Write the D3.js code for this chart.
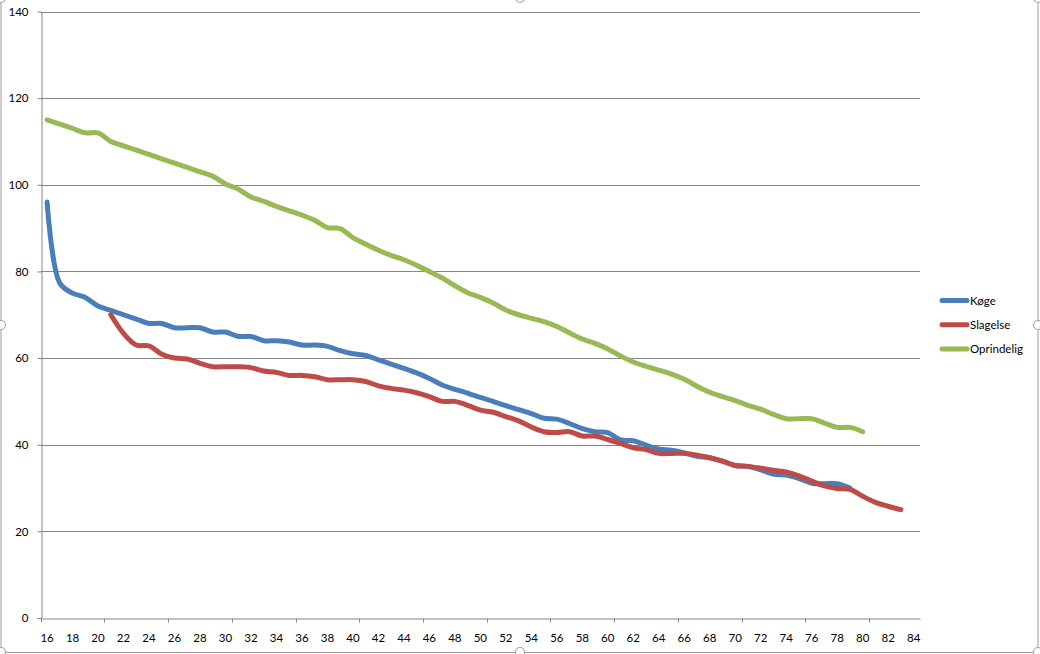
<!DOCTYPE html>
<html>
<head>
<meta charset="utf-8">
<script src="https://cdn.jsdelivr.net/npm/d3@7"></script>
<style>
  body { margin: 0; background: #fff; }
  text { font-family: Lato, "Liberation Sans", sans-serif; fill: #000; }
</style>
</head>
<body>
<svg id="chart"></svg>
<script>
// Categories (age) and tick labels
const categories = [16, 17, 18, 19, 20, 21, 22, 23, 24, 25, 26, 27, 28, 29, 30, 31, 32, 33, 34, 35,
  36, 37, 38, 39, 40, 41, 42, 43, 44, 45, 46, 47, 48, 49, 50, 51, 52, 53, 54, 55,
  56, 57, 58, 59, 60, 61, 62, 63, 64, 65, 66, 67, 68, 69, 70, 71, 72, 73, 74, 75,
  76, 77, 78, 79, 80, 81, 82, 83, 84];
const xLabels = [16, 18, 20, 22, 24, 26, 28, 30, 32, 34, 36, 38, 40, 42, 44, 46, 48, 50,
  52, 54, 56, 58, 60, 62, 64, 66, 68, 70, 72, 74, 76, 78, 80, 82, 84];
const yTicks = [0, 20, 40, 60, 80, 100, 120, 140];

// Series values, one per category (null = no value)
const koge = [96, 77.3, 75, 74, 72, 71, 70, 69, 68, 68, 67, 67, 67, 66, 66, 65, 65, 64, 64, 63.7,
  63, 63, 62.7, 61.7, 61, 60.6, 59.6, 58.6, 57.6, 56.6, 55.3, 53.8, 52.8, 51.9, 50.9, 50, 49, 48.1, 47.2, 46.1,
  45.9, 44.9, 43.7, 43, 42.8, 41.1, 40.9, 39.9, 39, 38.7, 38.1, 37.3, 37, 36.2, 35.2, 35, 34.2, 33.2, 33, 32.2,
  31.1, 31, 31, 30, null, null, null, null, null];
const slagelse = [null, null, null, null, null, 70, 65.7, 63, 62.8, 60.9, 60, 59.8, 58.8, 58, 58, 58, 57.8, 57, 56.7, 56,
  56, 55.7, 55, 55, 55, 54.6, 53.6, 53, 52.6, 52, 51.1, 50, 50, 49.1, 48, 47.5, 46.5, 45.5, 44.1, 43,
  42.8, 43, 42, 42, 41.2, 40.3, 39.3, 38.9, 38, 38, 38, 37.6, 37, 36.2, 35.2, 35, 34.6, 34.1, 33.7, 32.8,
  31.6, 30.5, 29.9, 29.7, 28.1, 26.7, 25.8, 25, null];
const oprindelig = [115, 114, 113, 112, 112, 110, 109, 108, 107, 106, 105, 104, 103, 102, 100.2, 99, 97.2, 96.2, 95, 94,
  93, 91.8, 90.1, 89.9, 87.8, 86.3, 84.9, 83.7, 82.7, 81.4, 80, 78.5, 76.7, 75.1, 74, 72.7, 71.1, 70, 69.2, 68.4,
  67.3, 65.8, 64.4, 63.4, 62.1, 60.5, 59.1, 58.1, 57.2, 56.3, 55.1, 53.5, 52.1, 51.1, 50.2, 49.1, 48.2, 47, 46, 46,
  46, 45, 44, 44, 43, null, null, null, null];

const seriesNames = ["Køge", "Slagelse", "Oprindelig"];
const seriesColors = ["#4a7ebb", "#be4b48", "#98b954"];
const seriesValues = [koge, slagelse, oprindelig];

// Chart dimensions
const width = 1040;
const height = 654;
const plot = { left: 40.7, right: 920, top: 11.5, bottom: 618 };

const svg = d3.select("#chart").attr("width", width).attr("height", height);

// Scales
const xScale = d3.scaleBand().domain(categories).range([plot.left, plot.right]).padding(0);
const xMid = (c) => xScale(c) + xScale.bandwidth() / 2;
const yScale = d3.scaleLinear().domain([0, 140]).range([plot.bottom, plot.top]);

// Chart frame and selection handles
svg.append("rect")
  .attr("x", 1).attr("y", -6)
  .attr("width", 1037).attr("height", 658.5)
  .attr("rx", 7)
  .attr("fill", "none")
  .attr("stroke", "#9a9a9a")
  .attr("stroke-width", 1);

const handles = [[1, -2], [520, -2], [1038, -2], [1, 325], [1038, 325], [1, 652], [520, 652], [1038, 652]];
svg.selectAll(".handle")
  .data(handles)
  .enter()
  .append("circle")
  .attr("class", "handle")
  .attr("cx", (d) => d[0])
  .attr("cy", (d) => d[1])
  .attr("r", 4.5)
  .attr("fill", "#fff")
  .attr("stroke", "#a6a6a6")
  .attr("stroke-width", 1.2);

// Gridlines
svg.append("g")
  .selectAll("line")
  .data(yTicks.filter((d) => d > 0))
  .enter()
  .append("line")
  .attr("x1", plot.left)
  .attr("x2", plot.right)
  .attr("y1", (d) => Math.round(yScale(d)) + 0.5)
  .attr("y2", (d) => Math.round(yScale(d)) + 0.5)
  .attr("stroke", "#868686")
  .attr("stroke-width", 1);

// Y axis
const yAxis = d3.axisLeft(yScale).tickValues(yTicks).tickSize(4).tickPadding(9).tickSizeOuter(0);
const gy = svg.append("g")
  .attr("transform", `translate(${Math.round(plot.left) + 0.5},0)`)
  .call(yAxis);
gy.selectAll("line").attr("stroke", "#868686");
gy.select(".domain").attr("stroke", "#868686");
gy.selectAll("text").style("font-size", "11.5px").style("font-family", "Lato, sans-serif").attr("fill", "#000");

// X axis: labels every 2nd category, tick marks every 5th category boundary
const xAxis = d3.axisBottom(xScale).tickValues(xLabels).tickSize(0).tickPadding(15).tickSizeOuter(0);
const gx = svg.append("g")
  .attr("transform", `translate(0,${Math.round(plot.bottom) + 0.5})`)
  .call(xAxis);
gx.select(".domain").attr("stroke", "#868686");
gx.selectAll("text").style("font-size", "11.5px").style("font-family", "Lato, sans-serif").attr("fill", "#000");

gx.selectAll(".xtick")
  .data(categories.filter((d, i) => i % 5 === 0))
  .enter()
  .append("line")
  .attr("class", "xtick")
  .attr("x1", (d) => Math.round(xScale(d)) + 0.5)
  .attr("x2", (d) => Math.round(xScale(d)) + 0.5)
  .attr("y1", 0)
  .attr("y2", 4)
  .attr("stroke", "#868686");

// Lines (Excel-style smoothed)
const line = d3.line()
  .defined((d) => d.v !== null)
  .x((d) => xMid(d.c))
  .y((d) => yScale(d.v))
  .curve(d3.curveCatmullRom.alpha(0.5));

seriesValues.forEach(function (vals, i) {
  const pts = categories.map((c, j) => ({ c: c, v: vals[j] }));
  svg.append("path")
    .datum(pts)
    .attr("d", line)
    .attr("fill", "none")
    .attr("stroke", seriesColors[i])
    .attr("stroke-width", 5)
    .attr("stroke-linejoin", "round")
    .attr("stroke-linecap", "round");
});

// Legend
const legend = svg.append("g").attr("transform", "translate(940,300.5)");
const items = legend.selectAll(".legend-item")
  .data(seriesNames)
  .enter()
  .append("g")
  .attr("class", "legend-item")
  .attr("transform", (d, i) => `translate(0,${i * 24.3})`);

items.append("line")
  .attr("x1", 2).attr("x2", 27)
  .attr("y1", 0).attr("y2", 0)
  .attr("stroke", (d, i) => seriesColors[i])
  .attr("stroke-width", 5)
  .attr("stroke-linecap", "round");

items.append("text")
  .attr("x", 30)
  .attr("y", 4)
  .style("font-size", "11.5px")
  .text((d) => d);
</script>
</body>
</html>
